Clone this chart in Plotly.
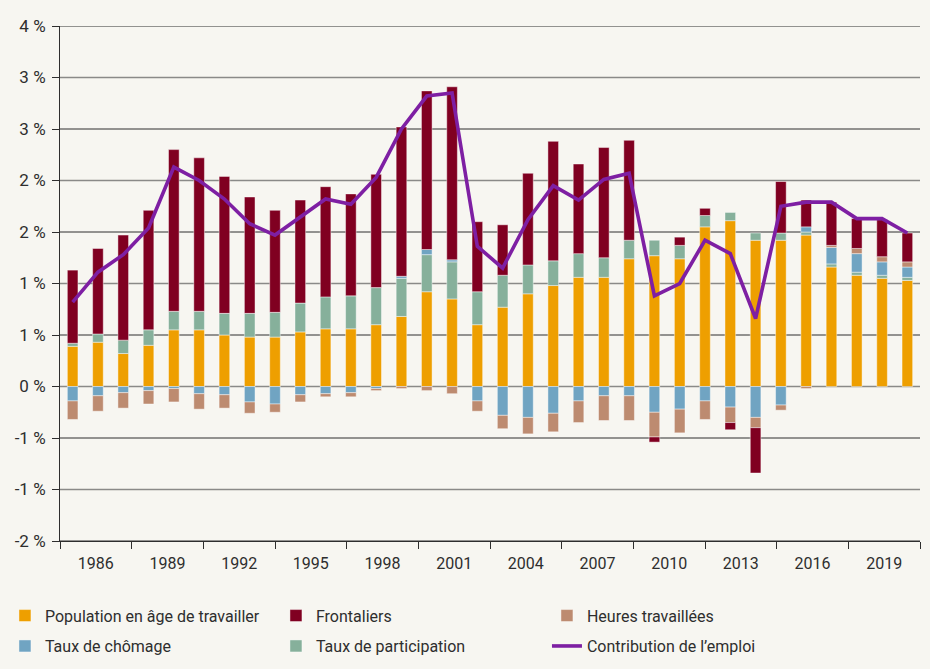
import math
import plotly.graph_objects as go

# Contributions à la croissance de l'emploi (points de %)
years = [1986, 1987, 1988, 1989, 1990, 1991, 1992, 1993, 1994, 1995, 1996, 1997,
         1998, 1999, 2000, 2001, 2002, 2003, 2004, 2005, 2006, 2007, 2008, 2009,
         2010, 2011, 2012, 2013, 2014, 2015, 2016, 2017, 2018, 2019]

population = [0.39, 0.43, 0.32, 0.40, 0.55, 0.55, 0.50, 0.48, 0.48, 0.53, 0.56, 0.56,
              0.60, 0.68, 0.92, 0.85, 0.60, 0.77, 0.90, 0.98, 1.06, 1.06, 1.24, 1.27,
              1.24, 1.55, 1.61, 1.42, 1.42, 1.47, 1.16, 1.08, 1.05, 1.03]

participation = [0.03, 0.08, 0.13, 0.15, 0.18, 0.18, 0.21, 0.23, 0.24, 0.28, 0.31, 0.32,
                 0.36, 0.37, 0.36, 0.36, 0.32, 0.31, 0.28, 0.24, 0.23, 0.19, 0.18, 0.15,
                 0.13, 0.11, 0.08, 0.07, 0.07, 0.03, 0.03, 0.03, 0.03, 0.03]

chomage = [-0.14, -0.09, -0.06, -0.04, -0.02, -0.07, -0.08, -0.15, -0.17, -0.08, -0.07, -0.06,
           -0.02, 0.02, 0.05, 0.02, -0.14, -0.28, -0.30, -0.26, -0.14, -0.09, -0.09, -0.25,
           -0.22, -0.14, -0.20, -0.30, -0.18, 0.05, 0.16, 0.18, 0.13, 0.10]

heures = [-0.18, -0.15, -0.15, -0.13, -0.13, -0.15, -0.13, -0.11, -0.08, -0.07, -0.03, -0.04,
          -0.02, -0.02, -0.04, -0.07, -0.10, -0.13, -0.16, -0.18, -0.21, -0.24, -0.24, -0.24,
          -0.23, -0.18, -0.15, -0.10, -0.05, -0.02, 0.02, 0.05, 0.05, 0.05]

frontaliers = [0.71, 0.83, 1.02, 1.16, 1.57, 1.49, 1.33, 1.13, 0.99, 1.00, 1.07, 0.99,
               1.10, 1.45, 1.54, 1.68, 0.68, 0.49, 0.89, 1.16, 0.87, 1.07, 0.97, -0.05,
               0.08, 0.07, -0.07, -0.44, 0.50, 0.26, 0.42, 0.29, 0.36, 0.28]

emploi = [0.82, 1.11, 1.28, 1.54, 2.13, 2.00, 1.82, 1.58, 1.47, 1.65, 1.82, 1.77,
          2.03, 2.50, 2.82, 2.85, 1.36, 1.15, 1.62, 1.95, 1.81, 2.01, 2.07, 0.88,
          1.00, 1.42, 1.29, 0.66, 1.75, 1.79, 1.79, 1.63, 1.63, 1.49]

label_years = [1986, 1989, 1992, 1995, 1998, 2001, 2004, 2007, 2010, 2013, 2016, 2019]
y_ticks = [-1.5, -1.0, -0.5, 0.0, 0.5, 1.0, 1.5, 2.0, 2.5, 3.0, 3.5]

BG = "#f7f6f1"
INK = "#2e2e2e"
FONT = "Roboto"


def pct_label(v):
    r = math.floor(abs(v) + 0.5)
    return f"{'-' if v < 0 and r else ''}{r} %"


# (nom, valeurs, couleur, légende, rang) in stacking order
series = [
    ("Population en âge de travailler", population, "#ee9f00", "legend", 1),
    ("Taux de participation", participation, "#86b09b", "legend2", 5),
    ("Taux de chômage", chomage, "#70a4c2", "legend2", 4),
    ("Heures travaillées", heures, "#bd8b70", "legend", 3),
    ("Frontaliers", frontaliers, "#800021", "legend", 2),
]

fig = go.Figure()
for name, vals, color, leg, rank in series:
    fig.add_trace(go.Bar(
        x=years, y=vals, name=name, legend=leg, legendrank=rank,
        marker=dict(color=color, line=dict(color="rgba(255,255,255,0.55)", width=0.8)),
    ))

fig.add_trace(go.Scatter(
    x=years, y=emploi, name="Contribution de l’emploi", mode="lines",
    legend="legend2", legendrank=6,
    line=dict(color="#7e1fa3", width=3.6),
))

# carrier for the labelled year axis (draws nothing)
fig.add_trace(go.Scatter(
    x=label_years, y=[0] * len(label_years), xaxis="x2", mode="markers",
    marker=dict(opacity=0), showlegend=False, hoverinfo="skip",
))

# horizontal rules at each tick: integers softer grey, half steps darker
for v in y_ticks:
    integer = float(v).is_integer()
    fig.add_shape(type="line", xref="paper", x0=0, x1=1, yref="y", y0=v, y1=v,
                  layer="below",
                  line=dict(color="#8a8a88" if integer else INK,
                            width=1.6 if integer else 1))

legend_common = dict(
    orientation="h", xanchor="left", yanchor="middle",
    entrywidth=226, entrywidthmode="pixels",
    font=dict(family=FONT, size=16, color=INK),
    bgcolor="rgba(0,0,0,0)", itemclick=False, itemdoubleclick=False,
    traceorder="normal",
)

fig.update_layout(
    width=930, height=669,
    margin=dict(l=60, r=10, t=26, b=128, autoexpand=False),
    paper_bgcolor=BG, plot_bgcolor=BG,
    barmode="relative", bargap=0.58,
    font=dict(family=FONT, size=16, color=INK),
    showlegend=True,
    legend=dict(x=-0.064, y=-0.145, **legend_common),
    legend2=dict(x=-0.064, y=-0.204, **legend_common),
    xaxis=dict(range=[years[0] - 0.5, years[-1] + 0.5], visible=False, fixedrange=True),
    xaxis2=dict(
        overlaying="x", anchor="y", side="bottom",
        range=[label_years[0] - 1.5, label_years[-1] + 1.5],
        tickmode="array", tickvals=label_years, ticktext=[str(y) for y in label_years],
        ticks="", showgrid=False, zeroline=False,
        showline=True, linecolor=INK, linewidth=1,
        tickfont=dict(family=FONT, size=16, color=INK),
        ticklabelstandoff=8,
        minor=dict(ticks="outside", ticklen=7, tickcolor=INK, tickwidth=1,
                   tick0=label_years[0] - 1.5, dtick=3, showgrid=False),
    ),
    yaxis=dict(
        range=[y_ticks[0], y_ticks[-1]],
        tickmode="array", tickvals=y_ticks, ticktext=[pct_label(v) for v in y_ticks],
        showgrid=False, zeroline=False,
        showline=True, linecolor=INK, linewidth=1,
        ticks="outside", ticklen=7, tickcolor=INK,
        tickfont=dict(family=FONT, size=17, color=INK),
        ticklabelstandoff=3,
    ),
)

fig.write_html("out.html")
